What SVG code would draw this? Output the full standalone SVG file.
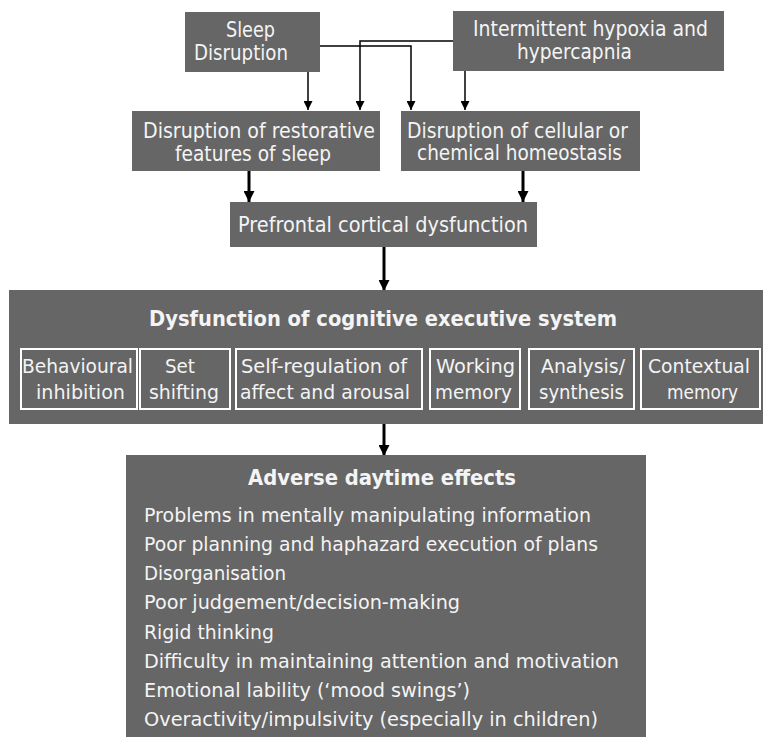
<svg xmlns="http://www.w3.org/2000/svg" width="763" height="737" viewBox="0 0 763 737">
<style>
.box{fill:#666666;}
.sub{fill:none;stroke:#ffffff;stroke-width:2;}
text{font-family:"DejaVu Sans","Liberation Sans",sans-serif;fill:#f4f4f4;font-size:20px;}
.t{font-size:21px;}
.b{font-weight:bold;font-size:21.5px;}
.thin{fill:none;stroke:#000;stroke-width:1.5;}
.thick{fill:none;stroke:#000;stroke-width:3;}
</style>
<defs>
<marker id="ah" viewBox="0 0 10 10" refX="10" refY="5" markerWidth="9" markerHeight="9" markerUnits="userSpaceOnUse" orient="auto"><path d="M0,0 L10,5 L0,10 z" fill="#000"/></marker>
<marker id="ahb" viewBox="0 0 10 10" refX="10" refY="5" markerWidth="12" markerHeight="11" markerUnits="userSpaceOnUse" orient="auto"><path d="M0,0 L10,5 L0,10 z" fill="#000"/></marker>
</defs>
<rect width="763" height="737" fill="#ffffff"/>
<g id="connectors">
<path class="thin" d="M308,72 V110" marker-end="url(#ah)"/>
<path class="thin" d="M453,41 H360 V110" marker-end="url(#ah)"/>
<path class="thin" d="M320,46 H411 V110" marker-end="url(#ah)"/>
<path class="thin" d="M465,71 V110" marker-end="url(#ah)"/>
<path class="thick" d="M249,171 V202" marker-end="url(#ahb)"/>
<path class="thick" d="M523,171 V202" marker-end="url(#ahb)"/>
<path class="thick" d="M384,247 V291" marker-end="url(#ahb)"/>
<path class="thick" d="M384,424 V456" marker-end="url(#ahb)"/>
</g>
<g id="sleep">
<rect class="box" x="185" y="12" width="135" height="60"/>
<text class="t" x="226" y="37" textLength="49" lengthAdjust="spacingAndGlyphs">Sleep</text>
<text class="t" x="194" y="60" textLength="94" lengthAdjust="spacingAndGlyphs">Disruption</text>
</g>
<g id="hypoxia">
<rect class="box" x="453" y="11" width="271" height="60"/>
<text class="t" x="473" y="36" textLength="235" lengthAdjust="spacingAndGlyphs">Intermittent hypoxia and</text>
<text class="t" x="517" y="59" textLength="115" lengthAdjust="spacingAndGlyphs">hypercapnia</text>
</g>
<g id="restorative">
<rect class="box" x="132" y="111" width="248" height="60"/>
<text class="t" x="143" y="138" textLength="232" lengthAdjust="spacingAndGlyphs">Disruption of restorative</text>
<text class="t" x="175" y="161" textLength="156" lengthAdjust="spacingAndGlyphs">features of sleep</text>
</g>
<g id="homeostasis">
<rect class="box" x="401" y="111" width="239" height="60"/>
<text class="t" x="407" y="138" textLength="221" lengthAdjust="spacingAndGlyphs">Disruption of cellular or</text>
<text class="t" x="417" y="160" textLength="205" lengthAdjust="spacingAndGlyphs">chemical homeostasis</text>
</g>
<g id="prefrontal">
<rect class="box" x="230" y="202" width="307" height="45"/>
<text class="t" x="238" y="232" textLength="290" lengthAdjust="spacingAndGlyphs">Prefrontal cortical dysfunction</text>
</g>
<g id="executive">
<rect class="box" x="9" y="290" width="754" height="134"/>
<text class="b" x="149" y="326" textLength="468" lengthAdjust="spacingAndGlyphs">Dysfunction of cognitive executive system</text>
<rect class="sub" x="21" y="349" width="116" height="60"/>
<text x="22" y="373" textLength="111" lengthAdjust="spacingAndGlyphs">Behavioural</text>
<text x="36" y="399" textLength="89" lengthAdjust="spacingAndGlyphs">inhibition</text>
<rect class="sub" x="140" y="349" width="90" height="60"/>
<text x="165" y="373" textLength="30" lengthAdjust="spacingAndGlyphs">Set</text>
<text x="149" y="399" textLength="70" lengthAdjust="spacingAndGlyphs">shifting</text>
<rect class="sub" x="236" y="349" width="186" height="60"/>
<text x="241" y="373" textLength="166" lengthAdjust="spacingAndGlyphs">Self-regulation of</text>
<text x="240" y="399" textLength="170" lengthAdjust="spacingAndGlyphs">affect and arousal</text>
<rect class="sub" x="430" y="349" width="90" height="60"/>
<text x="436" y="373" textLength="79" lengthAdjust="spacingAndGlyphs">Working</text>
<text x="435" y="399" textLength="77" lengthAdjust="spacingAndGlyphs">memory</text>
<rect class="sub" x="529" y="349" width="105" height="60"/>
<text x="541" y="373" textLength="84" lengthAdjust="spacingAndGlyphs">Analysis/</text>
<text x="539" y="399" textLength="85" lengthAdjust="spacingAndGlyphs">synthesis</text>
<rect class="sub" x="641" y="349" width="119" height="60"/>
<text x="648" y="373" textLength="102" lengthAdjust="spacingAndGlyphs">Contextual</text>
<text x="667" y="399" textLength="71" lengthAdjust="spacingAndGlyphs">memory</text>
</g>
<g id="adverse">
<rect class="box" x="126" y="455" width="520" height="282"/>
<text class="b" x="248" y="485" textLength="268" lengthAdjust="spacingAndGlyphs">Adverse daytime effects</text>
<text x="144" y="522" textLength="447" lengthAdjust="spacingAndGlyphs">Problems in mentally manipulating information</text>
<text x="144" y="551" textLength="454" lengthAdjust="spacingAndGlyphs">Poor planning and haphazard execution of plans</text>
<text x="144" y="580" textLength="142" lengthAdjust="spacingAndGlyphs">Disorganisation</text>
<text x="144" y="609" textLength="316" lengthAdjust="spacingAndGlyphs">Poor judgement/decision-making</text>
<text x="144" y="639" textLength="130" lengthAdjust="spacingAndGlyphs">Rigid thinking</text>
<text x="144" y="668" textLength="475" lengthAdjust="spacingAndGlyphs">Difficulty in maintaining attention and motivation</text>
<text x="144" y="697" textLength="326" lengthAdjust="spacingAndGlyphs">Emotional lability (‘mood swings’)</text>
<text x="144" y="726" textLength="454" lengthAdjust="spacingAndGlyphs">Overactivity/impulsivity (especially in children)</text>
</g>
</svg>
